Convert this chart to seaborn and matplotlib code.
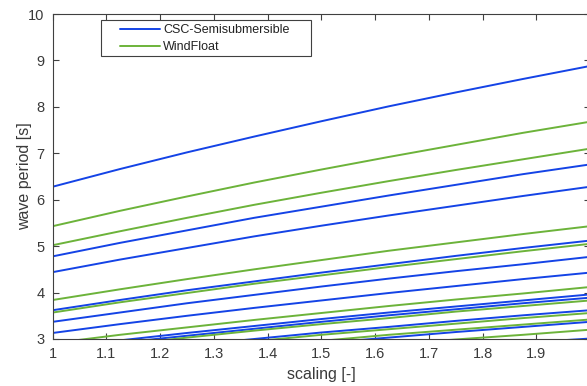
import numpy as np
import pandas as pd
import matplotlib
matplotlib.use("Agg")
import matplotlib.pyplot as plt
import seaborn as sns
from matplotlib.lines import Line2D
from matplotlib.patches import Rectangle

scaling = [1.0, 1.125, 1.25, 1.375, 1.5, 1.625, 1.75, 1.875, 2.0]

# CSC-Semisubmersible wave periods [s] per mode (read at the scaling points)
csc_periods = [
    [6.28, 6.66, 7.02, 7.36, 7.69, 8.01, 8.31, 8.60, 8.88],
    [4.78, 5.07, 5.34, 5.61, 5.85, 6.09, 6.32, 6.55, 6.76],
    [4.44, 4.71, 4.96, 5.21, 5.44, 5.66, 5.87, 6.08, 6.28],
    [3.62, 3.84, 4.05, 4.24, 4.43, 4.61, 4.79, 4.96, 5.12],
    [3.37, 3.57, 3.77, 3.95, 4.13, 4.30, 4.46, 4.61, 4.77],
    [3.13, 3.32, 3.50, 3.67, 3.83, 3.99, 4.14, 4.29, 4.43],
    [2.80, 2.97, 3.13, 3.28, 3.43, 3.57, 3.70, 3.83, 3.96],
    [2.75, 2.92, 3.07, 3.22, 3.37, 3.51, 3.64, 3.77, 3.89],
    [2.56, 2.72, 2.86, 3.00, 3.14, 3.26, 3.39, 3.51, 3.62],
    [2.38, 2.52, 2.66, 2.79, 2.91, 3.03, 3.15, 3.26, 3.37],
    [2.13, 2.26, 2.38, 2.50, 2.61, 2.72, 2.82, 2.92, 3.01],
]

# WindFloat wave periods [s] per mode
windfloat_periods = [
    [5.43, 5.76, 6.07, 6.37, 6.65, 6.92, 7.18, 7.44, 7.68],
    [5.02, 5.32, 5.61, 5.89, 6.15, 6.40, 6.64, 6.87, 7.10],
    [3.84, 4.07, 4.29, 4.50, 4.70, 4.90, 5.08, 5.26, 5.43],
    [3.57, 3.79, 3.99, 4.19, 4.37, 4.55, 4.72, 4.89, 5.05],
    [2.91, 3.09, 3.25, 3.41, 3.56, 3.71, 3.85, 3.98, 4.12],
    [2.71, 2.87, 3.03, 3.18, 3.32, 3.45, 3.59, 3.71, 3.83],
    [2.52, 2.67, 2.82, 2.95, 3.09, 3.21, 3.33, 3.45, 3.56],
    [2.42, 2.57, 2.71, 2.84, 2.96, 3.09, 3.20, 3.31, 3.42],
    [2.26, 2.40, 2.53, 2.65, 2.77, 2.88, 2.99, 3.09, 3.20],
]

series_names = ["CSC-Semisubmersible", "WindFloat"]
x_ticks = [1, 1.1, 1.2, 1.3, 1.4, 1.5, 1.6, 1.7, 1.8, 1.9, 2]
x_tick_labels = ["1", "1.1", "1.2", "1.3", "1.4", "1.5", "1.6", "1.7", "1.8", "1.9", "2"]
y_ticks = [3, 4, 5, 6, 7, 8, 9, 10]

rows = []
for name, block in zip(series_names, [csc_periods, windfloat_periods]):
    for m, vals in enumerate(block):
        for s, v in zip(scaling, vals):
            rows.append({"model": name, "mode": f"{name}-{m}", "scaling": s, "period": v})
df = pd.DataFrame(rows)

sns.set_style("ticks")
plt.rcParams["font.family"] = ["Liberation Sans", "DejaVu Sans"]

colors = {"CSC-Semisubmersible": "#1443e6", "WindFloat": "#6cb33a"}

fig = plt.figure(figsize=(5.87, 3.86), dpi=100)
ax = fig.add_axes([52.7 / 587, (386 - 339) / 386, (590 - 52.7) / 587, 325 / 386])

sns.lineplot(data=df, x="scaling", y="period", hue="model", units="mode",
             estimator=None, palette=colors, linewidth=1.4, ax=ax, legend=False)

ax.set_xlim(1, 2)
ax.set_ylim(3, 10)
ax.set_xticks(x_ticks)
ax.set_xticklabels(x_tick_labels)
ax.set_yticks(y_ticks)

grey = "#404040"
for sp in ax.spines.values():
    sp.set_visible(True)
    sp.set_color(grey)
    sp.set_linewidth(0.8)
ax.tick_params(direction="in", top=True, right=True, length=4, width=0.8,
               colors=grey, labelsize=10.5, pad=6)
for lab in ax.get_xticklabels() + ax.get_yticklabels():
    lab.set_color("#3a3a3a")

ax.set_xlabel("scaling [-]", fontsize=11.5, color="#3a3a3a", labelpad=4)
ax.set_ylabel("wave period [s]", fontsize=11.5, color="#3a3a3a", labelpad=-2.6)

# legend frame (MATLAB-style box with generous padding)
frame = Rectangle(((101 - 52.7) / 537.3, (339 - 56) / 325), (310.5 - 101) / 537.3, 36 / 325,
                  transform=ax.transAxes, facecolor="white", edgecolor=grey,
                  linewidth=0.8, zorder=4)
ax.add_patch(frame)

handles = [Line2D([0], [0], color=colors[n], lw=1.4) for n in series_names]
leg = ax.legend(handles, series_names, loc="upper left",
                bbox_to_anchor=((120 - 52.7) / 537.3, (339 - 24) / 325),
                frameon=False, fontsize=9, handlelength=3.2, handletextpad=0.25,
                borderpad=0, labelspacing=0.4, borderaxespad=0)
leg.set_zorder(5)
for t in leg.get_texts():
    t.set_color("#222222")

fig.savefig("out.png", dpi=100)
